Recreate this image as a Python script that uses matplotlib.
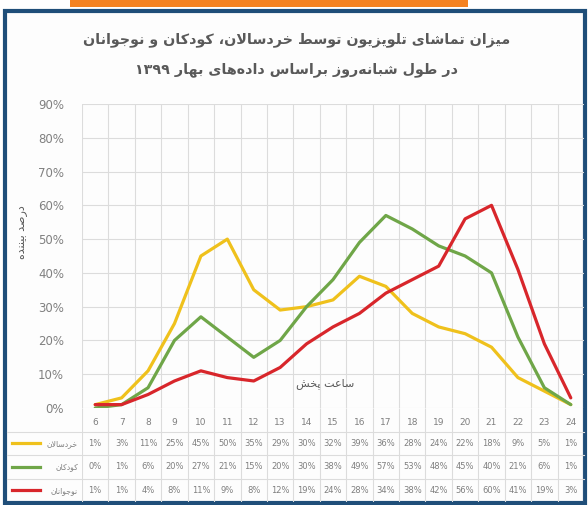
import re
import numpy as np
import matplotlib
matplotlib.use('Agg')
from matplotlib import pyplot as plt
from matplotlib.patches import Rectangle

plt.rcParams['font.family'] = ['DejaVu Sans']

# hours of the day (category axis)
hours = [6, 7, 8, 9, 10, 11, 12, 13, 14, 15, 16, 17, 18, 19, 20, 21, 22, 23, 24]

# percent of viewers per group
toddlers = [1, 3, 11, 25, 45, 50, 35, 29, 30, 32, 39, 36, 28, 24, 22, 18, 9, 5, 1]
children = [0, 1, 6, 20, 27, 21, 15, 20, 30, 38, 49, 57, 53, 48, 45, 40, 21, 6, 1]
teens = [1, 1, 4, 8, 11, 9, 8, 12, 19, 24, 28, 34, 38, 42, 56, 60, 41, 19, 3]

series_names = ['خردسالان', 'کودکان', 'نوجوانان']
series_colors = ['#EFC11C', '#6FA648', '#D8262B']
yticks = [0, 10, 20, 30, 40, 50, 60, 70, 80, 90]

title1 = 'میزان تماشای تلویزیون توسط خردسالان، کودکان و نوجوانان'
title2 = 'در طول شبانه\u200cروز براساس داده\u200cهای بهار ۱۳۹۹'
ylabel = 'درصد بیننده'
xlabel = 'ساعت پخش'

# --- tiny persian shaper (matplotlib has no bidi / joining) ---
RIGHT_JOIN = set('اآدذرزژو')
DUAL = set('بپتثجچحخسشصضطظعغفقکگلمنهی')
FORMS = {
    'ا': ('\uFE8D', '\uFE8E'), 'د': ('\uFEA9', '\uFEAA'), 'ر': ('\uFEAD', '\uFEAE'),
    'ز': ('\uFEAF', '\uFEB0'), 'و': ('\uFEED', '\uFEEE'),
    'ب': ('\uFE8F', '\uFE90', '\uFE91', '\uFE92'),
    'ت': ('\uFE95', '\uFE96', '\uFE97', '\uFE98'),
    'ج': ('\uFE9D', '\uFE9E', '\uFE9F', '\uFEA0'),
    'خ': ('\uFEA5', '\uFEA6', '\uFEA7', '\uFEA8'),
    'س': ('\uFEB1', '\uFEB2', '\uFEB3', '\uFEB4'),
    'ش': ('\uFEB5', '\uFEB6', '\uFEB7', '\uFEB8'),
    'ص': ('\uFEB9', '\uFEBA', '\uFEBB', '\uFEBC'),
    'ط': ('\uFEC1', '\uFEC2', '\uFEC3', '\uFEC4'),
    'ع': ('\uFEC9', '\uFECA', '\uFECB', '\uFECC'),
    'ل': ('\uFEDD', '\uFEDE', '\uFEDF', '\uFEE0'),
    'م': ('\uFEE1', '\uFEE2', '\uFEE3', '\uFEE4'),
    'ن': ('\uFEE5', '\uFEE6', '\uFEE7', '\uFEE8'),
    'ه': ('\uFEE9', '\uFEEA', '\uFEEB', '\uFEEC'),
    'ی': ('\uFBFC', '\uFBFD', '\uFBFE', '\uFBFF'),
    'ک': ('\uFB8E', '\uFB8F', '\uFB90', '\uFB91'),
    'پ': ('\uFB56', '\uFB57', '\uFB58', '\uFB59'),
}


def fa(text):
    out = []
    i = 0
    while i < len(text):
        c = text[i]
        prev = text[i - 1] if i > 0 else ''
        nxt = text[i + 1] if i + 1 < len(text) else ''
        if c not in FORMS:
            if c != '\u200c':
                out.append(c)
            i += 1
            continue
        p = prev in DUAL
        if c == 'ل' and nxt == 'ا':
            out.append('\uFEFC' if p else '\uFEFB')
            i += 2
            continue
        n = c in DUAL and (nxt in DUAL or nxt in RIGHT_JOIN)
        f = FORMS[c]
        if p and n:
            g = f[3]
        elif p:
            g = f[1]
        elif n:
            g = f[2]
        else:
            g = f[0]
        out.append(g)
        i += 1
    s = ''.join(out)[::-1]
    return re.sub(r'[۰-۹0-9%]+', lambda m: m.group(0)[::-1], s)


W, H = 588, 505
fig = plt.figure(figsize=(W / 100, H / 100), dpi=100)
fig.patch.set_facecolor('white')

# frame decorations (behind the axes)
fig.patches.append(Rectangle((70 / W, 1 - 7 / H), 398 / W, 7 / H, transform=fig.transFigure,
                             facecolor='#F58220', edgecolor='none', zorder=-2))
fig.patches.append(Rectangle((5 / W, 2 / H), 580 / W, 492 / H, transform=fig.transFigure,
                             facecolor='#FDFDFD', edgecolor='#1F4E79', linewidth=3, zorder=-1))

# main plot
x0, x1 = 82, 584
ax = fig.add_axes([x0 / W, 1 - 408 / H, (x1 - x0) / W, 304 / H])
ax.set_facecolor('none')
for vals, col in zip([toddlers, children, teens], series_colors):
    ax.plot(hours, vals, color=col, lw=2.3, solid_capstyle='round')

ax.set_xlim(hours[0] - 0.5, hours[-1] + 0.5)
ax.set_ylim(0, 90)
ax.set_yticks(yticks)
ax.set_yticklabels([f'{t}%' for t in yticks], color='#808080', fontsize=8.5)
ax.set_xticks(np.arange(hours[0] - 0.5, hours[-1] + 1))
ax.set_xticklabels([])
ax.tick_params(length=0, pad=13)
ax.grid(True, color='#DCDCDC', lw=0.8)
for s in ax.spines.values():
    s.set_visible(False)
ax.text(0.484, 0.082, fa(xlabel), transform=ax.transAxes, ha='center', va='center',
        fontsize=8, color='#595959')
fig.text(22 / W, 1 - 232 / H, fa(ylabel), rotation=90, ha='center', va='center',
         fontsize=8, color='#595959')

fig.text(297 / W, 1 - 40 / H, fa(title1), ha='center', va='center', fontsize=10.3,
         fontweight='bold', color='#595959')
fig.text(297 / W, 1 - 70 / H, fa(title2), ha='center', va='center', fontsize=10.3,
         fontweight='bold', color='#595959')

# data table under the chart
tb = fig.add_axes([x0 / W, 3 / H, (x1 - x0) / W, 94 / H])
tb.set_xlim(hours[0] - 0.5, hours[-1] + 0.5)
tb.set_ylim(4, 0)
tb.axis('off')
ext = -(x0 - 7) / (x1 - x0)
tb.vlines(np.arange(hours[0] - 0.5, hours[-1] + 1), 0, 4, color='#DCDCDC', lw=0.8)
for r in [1, 2, 3]:
    tb.axhline(r, xmin=ext, xmax=1, color='#DCDCDC', lw=0.8, clip_on=False)
for h in hours:
    tb.text(h, 0.6, str(h), ha='center', va='center', fontsize=6.5, color='#7F7F7F')
for r, (vals, name, col) in enumerate(zip([toddlers, children, teens], series_names, series_colors), 1):
    for h, v in zip(hours, vals):
        tb.text(h, r + 0.5, f'{v}%', ha='center', va='center', fontsize=6, color='#7F7F7F')
    tb.plot([ext + 0.01, ext + 0.065], [1 - (r + 0.5) / 4] * 2, transform=tb.transAxes,
            color=col, lw=2.3, clip_on=False)
    tb.text(-0.008, 1 - (r + 0.5) / 4, fa(name), transform=tb.transAxes, ha='right',
            va='center', fontsize=5.5, color='#7F7F7F')

fig.savefig('out.png', dpi=100)
